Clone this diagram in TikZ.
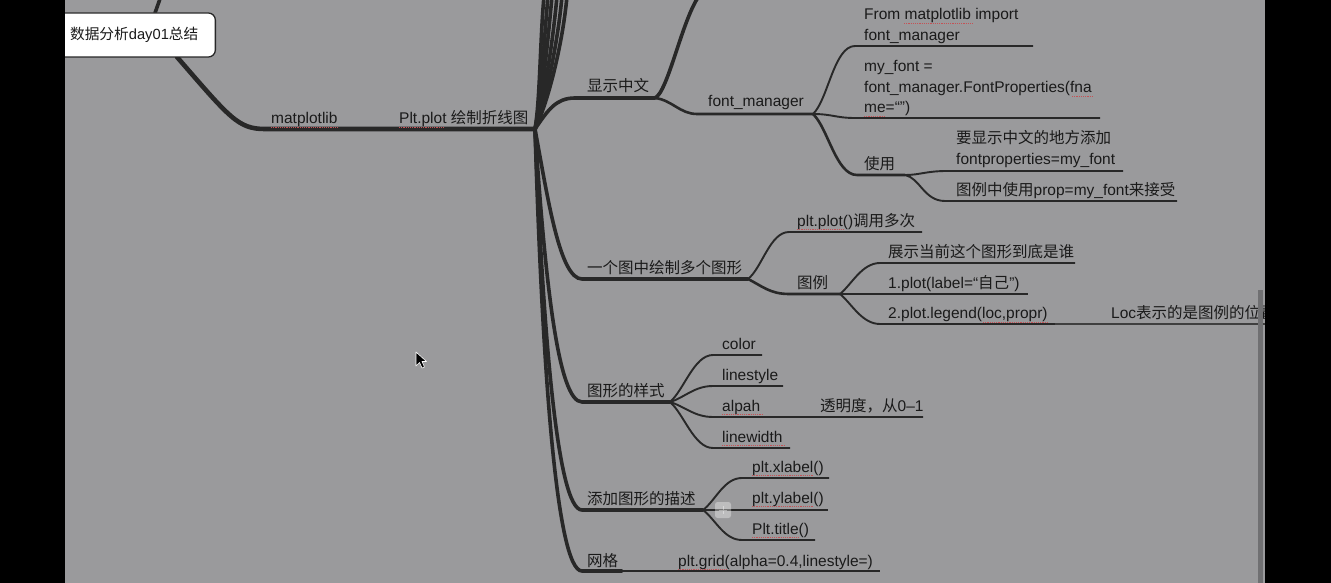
\documentclass[tikz,border=0pt]{standalone}
\usepackage{fontspec}
\usetikzlibrary{calc}
\setmainfont{Liberation Sans}
\newfontfamily\cjkfont{Noto Sans CJK SC}
\newcommand\zh[1]{{\cjkfont #1}}
\newcommand\ml[1]{\begin{tabular}[t]{@{}l@{}}#1\end{tabular}}
\definecolor{bg}{RGB}{154,154,156}
\definecolor{ln}{RGB}{40,40,40}
\definecolor{tx}{RGB}{26,26,26}
\definecolor{spellred}{RGB}{196,82,86}
\definecolor{scroll}{RGB}{112,112,114}
\begin{document}
\begin{tikzpicture}[x=1pt,y=-1pt,
  lbl/.style={anchor=base west, inner sep=0pt, text=tx, font=\fontsize{15.5}{20.5}\selectfont},
  trunk/.style={draw=ln, line width=4.6pt, line cap=round},
  br/.style={draw=ln, line width=3.6pt, line cap=round},
  sub/.style={draw=ln, line width=2.6pt, line cap=round},
  leaf/.style={draw=ln, line width=1.9pt},
  thinleaf/.style={draw=ln!80!bg, line width=1.2pt},
  spell/.style={draw=spellred, line width=1pt, dash pattern=on 1.2pt off 1pt},
  rootbox/.style={draw=ln, line width=1.3pt, fill=white, rounded corners=7pt, anchor=east,
    inner xsep=17pt, minimum height=44pt, text=tx, font=\fontsize{14.7}{19}\selectfont},
]
\useasboundingbox (0,0) rectangle (1331,583);
\clip (0,0) rectangle (1331,583);
\fill[bg] (0,0) rectangle (1331,583);

% ---------- coordinates ----------
\coordinate (H) at (535,129);
\coordinate (rtop) at (155,13);
\coordinate (rup) at (161,-4);
\coordinate (rb) at (177,57);
\coordinate (m0) at (265,129);
\foreach \i/\x in {1/544,2/548,3/552,4/557,5/562,6/567}{\coordinate (t\i) at (\x,-4);}
\coordinate (xs0) at (575,98);   \coordinate (xs1) at (655,98);
\coordinate (xsup) at (699,-4);
\coordinate (fm0) at (697,114);  \coordinate (fm1) at (813,114);
\coordinate (im0) at (855,46);   \coordinate (im1) at (1033,46);
\coordinate (mf0) at (855,118);  \coordinate (mf1) at (1100,118);
\coordinate (us0) at (857,175);  \coordinate (us1) at (905,175);
\coordinate (ad0) at (947,171);  \coordinate (ad1) at (1123,171);
\coordinate (lg0) at (945,201);  \coordinate (lg1) at (1177,201);
\coordinate (mu0) at (582,279);  \coordinate (mu1) at (748,279);
\coordinate (pp0) at (789,232);  \coordinate (pp1) at (922,232);
\coordinate (tl0) at (789,294);  \coordinate (tl1) at (840,294);
\coordinate (sh0) at (880,263);  \coordinate (sh1) at (1075,263);
\coordinate (lb1) at (1028,294);
\coordinate (le0) at (880,324);  \coordinate (le1) at (1055,324);
\coordinate (lo1) at (1270,324);
\coordinate (st0) at (582,402);  \coordinate (st1) at (670,402);
\coordinate (co0) at (713,355);  \coordinate (co1) at (762,355);
\coordinate (ls0) at (713,386);  \coordinate (ls1) at (783,386);
\coordinate (al0) at (713,417);  \coordinate (al1) at (923,417);
\coordinate (lw0) at (713,448);  \coordinate (lw1) at (790,448);
\coordinate (de0) at (582,510);  \coordinate (de1) at (703,510);
\coordinate (xl0) at (742,478);  \coordinate (xl1) at (829,478);
\coordinate (yl1) at (828,510);
\coordinate (ti0) at (742,540);  \coordinate (ti1) at (815,540);
\coordinate (gr0) at (582,571);  \coordinate (gr1) at (622,571);
\coordinate (gr2) at (880,571);

% ---------- connectors ----------
\draw[br] (rtop) -- (rup);
\draw[trunk] (rb) .. controls (230,118) and (238,129) .. (m0) -- (H);
\foreach \i/\c in {1/540,2/541,3/542,4/544,5/546,6/549}{
  \draw[br] (H) .. controls (\c,100) and ($(t\i)+(-4,45)$) .. (t\i);}
\draw[br] (H) .. controls (548,110) and (556,98) .. (xs0) -- (xs1);
\draw[br] (xs1) .. controls (668,92) and (682,20) .. (xsup);
\draw[sub] (xs1) .. controls (672,100) and (680,114) .. (fm0) -- (fm1);
\draw[leaf] (fm1) .. controls (828,100) and (834,46) .. (im0) -- (im1);
\draw[leaf] (fm1) .. controls (832,114) and (836,118) .. (mf0) -- (mf1);
\draw[sub] (fm1) .. controls (828,128) and (836,175) .. (us0) -- (us1);
\draw[leaf] (us1) .. controls (920,175) and (926,171) .. (ad0) -- (ad1);
\draw[leaf] (us1) .. controls (920,178) and (924,201) .. (lg0) -- (lg1);

\draw[br] (H) .. controls (548,200) and (560,279) .. (mu0) -- (mu1);
\draw[leaf] (mu1) .. controls (762,268) and (770,232) .. (pp0) -- (pp1);
\draw[sub] (mu1) .. controls (762,286) and (770,294) .. (tl0) -- (tl1);
\draw[leaf] (tl1) .. controls (852,284) and (862,263) .. (sh0) -- (sh1);
\draw[leaf] (tl1) -- (lb1);
\draw[leaf] (tl1) .. controls (852,304) and (862,324) .. (le0) -- (le1);
\draw[thinleaf] (le1) -- (lo1);

\draw[br] (H) .. controls (545,280) and (558,402) .. (st0) -- (st1);
\draw[leaf] (st1) .. controls (684,390) and (694,355) .. (co0) -- (co1);
\draw[leaf] (st1) .. controls (684,398) and (694,386) .. (ls0) -- (ls1);
\draw[leaf] (st1) .. controls (684,406) and (694,417) .. (al0) -- (al1);
\draw[leaf] (st1) .. controls (684,414) and (694,448) .. (lw0) -- (lw1);

\draw[br] (H) .. controls (543,330) and (557,510) .. (de0) -- (de1);
\draw[leaf] (de1) .. controls (716,500) and (724,478) .. (xl0) -- (xl1);
\draw[leaf] (de1) -- (yl1);
\draw[leaf] (de1) .. controls (716,520) and (724,540) .. (ti0) -- (ti1);

\draw[br] (H) .. controls (542,360) and (556,571) .. (gr0) -- (gr1);
\draw[leaf] (gr1) -- (gr2);

% collapse button
\node (plus) [fill=white, fill opacity=0.35, rounded corners=2.5pt, minimum size=16pt, inner sep=0pt] at (723,510) {};
\draw[white, opacity=0.4, line width=0.8pt] ($(plus.center)+(-4,0)$) -- ($(plus.center)+(4,0)$)
  ($(plus.center)+(0,-4)$) -- ($(plus.center)+(0,4)$);

% ---------- texts ----------
\node[rootbox] (root) at (216,35) {\zh{数据分析}day01\zh{总结}};
\node[lbl] (nmpl) at (271,124) {matplotlib};
\node[lbl] (nplt) at (399,124) {Plt.plot \zh{绘制折线图}};
\node[lbl] (nxs) at (587,92) {\zh{显示中文}};
\node[lbl] (nfm) at (708,107) {font\_manager};
\node[lbl] (nimp) at (864,20) {\ml{From matplotlib import\\font\_manager}};
\node[lbl] (nmyf) at (864,72) {\ml{my\_font =\\font\_manager.FontProperties(fna\\me=“”)}};
\node[lbl] (nuse) at (864,169) {\zh{使用}};
\node[lbl] (nadd) at (956,144) {\ml{\zh{要显示中文的地方添加}\\fontproperties=my\_font}};
\node[lbl] (nleg) at (956,196) {\zh{图例中使用}prop=my\_font\zh{来接受}};
\node[lbl] (nmulti) at (587,273) {\zh{一个图中绘制多个图形}};
\node[lbl] (npp) at (797,226) {plt.plot()\zh{调用多次}};
\node[lbl] (ntl) at (797,288) {\zh{图例}};
\node[lbl] (nshow) at (888,257) {\zh{展示当前这个图形到底是谁}};
\node[lbl] (nlab) at (888,288) {1.plot(label=“\zh{自己}”)};
\node[lbl] (nlg) at (888,318) {2.plot.legend(loc,propr)};
\node[lbl] (nloc) at (1111,318) {Loc\zh{表示的是图例的位置}};
\node[lbl] (nstyle) at (587,396) {\zh{图形的样式}};
\node[lbl] (ncolor) at (722,349) {color};
\node[lbl] (nls) at (722,380) {linestyle};
\node[lbl] (nal) at (722,411) {alpah};
\node[lbl] (ntm) at (820,411) {\zh{透明度，从}0–1};
\node[lbl] (nlw) at (722,442) {linewidth};
\node[lbl] (ndesc) at (587,504) {\zh{添加图形的描述}};
\node[lbl] (nxl) at (752,472) {plt.xlabel()};
\node[lbl] (nyl) at (752,503) {plt.ylabel()};
\node[lbl] (nti) at (752,534) {Plt.title()};
\node[lbl] (ngrid) at (587,566) {\zh{网格}};
\node[lbl] (ngr) at (678,566) {plt.grid(alpha=0.4,linestyle=)};

% spell-check underlines
\draw[spell] (271,127.5) -- (338,127.5);
\draw[spell] (399,127.5) -- (445,127.5);
\draw[spell] (904,24) -- (973,24);
\draw[spell] (1072,97) -- (1094,97);
\draw[spell] (864,116.5) -- (886,116.5);
\draw[spell] (797,229.5) -- (845,229.5);
\draw[spell] (983,322) -- (1047,322);
\draw[spell] (722,414.5) -- (763,414.5);
\draw[spell] (722,445.5) -- (785,445.5);
\draw[spell] (752,475.5) -- (813,475.5);
\draw[spell] (752,506.5) -- (813,506.5);
\draw[spell] (752,537.5) -- (800,537.5);
\draw[spell] (678,569.5) -- (727,569.5);

% mouse cursor
\draw[fill=black, draw=white, line width=0.6pt, line join=round]
  (416,352) -- (416,366) -- (419.5,362.5) -- (422,368) -- (424.5,367) -- (422,361.5) -- (426.5,361.5) -- cycle;

% screen frame
\fill[scroll] (1258,290) rectangle (1263,583);
\fill[black] (0,0) rectangle (65,583);
\fill[black] (1265,0) rectangle (1331,583);
\end{tikzpicture}
\end{document}
